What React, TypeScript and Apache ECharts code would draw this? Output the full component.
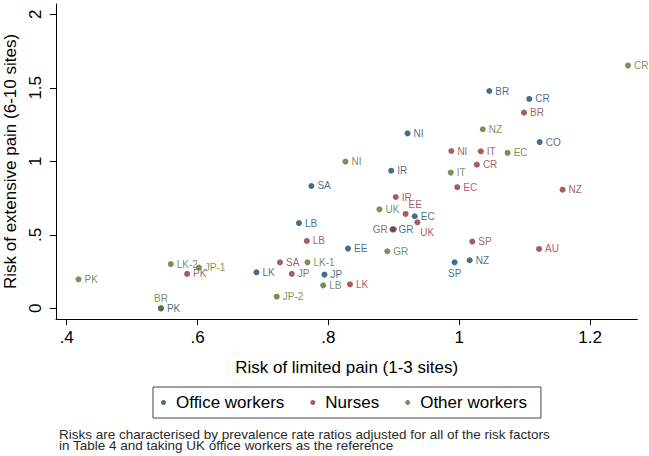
import React, { useEffect, useRef } from "react";
import * as echarts from "echarts";

const officeLabels = ["BR", "CR", "NI", "CO", "IR", "SA", "LB", "EC", "GR", "EE", "SP", "NZ", "LK", "JP", "PK"];
const officeLimited = [1.046, 1.107, 0.921, 1.123, 0.896, 0.774, 0.755, 0.932, 0.898, 0.83, 0.993, 1.016, 0.69, 0.794, 0.544];
const officeExtensive = [1.478, 1.424, 1.19, 1.131, 0.936, 0.832, 0.58, 0.626, 0.537, 0.406, 0.313, 0.327, 0.245, 0.229, 0.0];

const nurseLabels = ["BR", "NI", "IT", "CR", "IR", "EC", "NZ", "EE", "UK", "GR", "SP", "AU", "LB", "SA", "JP", "PK", "LK"];
const nurseLimited = [1.099, 0.988, 1.033, 1.027, 0.903, 0.997, 1.158, 0.918, 0.936, 0.9, 1.02, 1.122, 0.767, 0.726, 0.744, 0.584, 0.833];
const nurseExtensive = [1.331, 1.07, 1.068, 0.977, 0.757, 0.824, 0.807, 0.642, 0.585, 0.537, 0.454, 0.404, 0.458, 0.313, 0.234, 0.234, 0.163];

const otherLabels = ["CR", "NZ", "EC", "NI", "IT", "UK", "GR", "LK-1", "LB", "JP-2", "LK-2", "JP-1", "PK", "BR"];
const otherLimited = [1.258, 1.036, 1.074, 0.826, 0.987, 0.878, 0.89, 0.768, 0.792, 0.721, 0.559, 0.602, 0.418, 0.544];
const otherExtensive = [1.651, 1.218, 1.057, 0.998, 0.923, 0.673, 0.388, 0.313, 0.156, 0.079, 0.301, 0.277, 0.197, 0.0];

const seriesNames = ["Office workers", "Nurses", "Other workers"];
const xTicks = [0.4, 0.6, 0.8, 1, 1.2];
const yTicks = [0, 0.5, 1, 1.5, 2];

const xTitle = "Risk of limited pain (1-3 sites)";
const yTitle = "Risk of extensive pain (6-10 sites)";
const note =
  "Risks are characterised by prevalence rate ratios adjusted for all of the risk factors\nin Table 4 and taking UK office workers as the reference";

const COLORS = ["#1a476f", "#90353b", "#55752f"];
const FONT = "'Liberation Sans', Arial, Helvetica, sans-serif";

// label placements that differ from the default (right of marker)
const labelOverrides: Record<string, any> = {
  "0:SP": { position: "bottom", distance: 3 },
  "1:EE": { position: [6, -6], align: "left", verticalAlign: "middle" },
  "1:UK": { position: [6, 13], align: "left", verticalAlign: "middle" },
  "1:GR": { position: "left", distance: 3 },
  "2:BR": { position: "top", distance: 2 },
};

const stripZero = (v: number) => {
  const s = String(Number(v.toFixed(2)));
  return s.startsWith("0.") ? s.slice(1) : s;
};

function buildData(idx: number, labels: string[], xs: number[], ys: number[]) {
  return labels.map((name, i) => {
    const item: any = { name, value: [xs[i], ys[i]] };
    const o = labelOverrides[`${idx}:${name}`];
    if (o) item.label = { show: true, ...o };
    return item;
  });
}

export default function App() {
  const ref = useRef<HTMLDivElement>(null);
  useEffect(() => {
    if (!ref.current) return;
    const chart = echarts.init(ref.current, undefined, { renderer: "svg" });
    const groups = [
      buildData(0, officeLabels, officeLimited, officeExtensive),
      buildData(1, nurseLabels, nurseLimited, nurseExtensive),
      buildData(2, otherLabels, otherLimited, otherExtensive),
    ];
    chart.setOption({
      animation: false,
      backgroundColor: "#ffffff",
      textStyle: { fontFamily: FONT },
      grid: { left: 56, right: 11.7, top: 4, bottom: 137, containLabel: false, outerBoundsMode: "none" },
      title: {
        text: note,
        left: 59,
        top: 429,
        padding: 0,
        textStyle: { fontSize: 13.5, fontWeight: "normal", color: "#2a2a2a", lineHeight: 11, fontFamily: FONT },
      },
      legend: {
        left: 153,
        top: 387,
        orient: "horizontal",
        borderColor: "#444",
        borderWidth: 1,
        borderRadius: 0,
        padding: [7, 14, 7, 8],
        itemGap: 26,
        itemWidth: 5,
        itemHeight: 5,
        icon: "circle",
        data: seriesNames,
        textStyle: { fontSize: 17, color: "#000", fontFamily: FONT, padding: [0, 0, 0, 5] },
      },
      xAxis: {
        type: "value",
        min: 0.3836,
        max: 1.2722,
        name: xTitle,
        nameLocation: "middle",
        nameGap: 40,
        nameTextStyle: { fontSize: 17, color: "#000", fontFamily: FONT },
        splitLine: { show: false },
        axisLine: { show: true, onZero: false, lineStyle: { color: "#000", width: 1 } },
        axisTick: { show: true, length: 6, customValues: xTicks, lineStyle: { color: "#000" } },
        axisLabel: {
          customValues: xTicks,
          formatter: (v: number) => stripZero(v),
          fontSize: 17,
          color: "#000",
          margin: 10,
          fontFamily: FONT,
        },
      },
      yAxis: {
        type: "value",
        min: -0.0728,
        max: 2.07,
        name: yTitle,
        nameLocation: "middle",
        nameGap: 30,
        nameRotate: 90,
        nameTextStyle: { fontSize: 17, color: "#000", fontFamily: FONT },
        splitLine: { show: false },
        axisLine: { show: true, onZero: false, lineStyle: { color: "#000", width: 1 } },
        axisTick: { show: true, length: 6, customValues: yTicks, lineStyle: { color: "#000" } },
        axisLabel: {
          customValues: yTicks,
          formatter: (v: number) => stripZero(v),
          rotate: 90,
          fontSize: 17,
          color: "#000",
          margin: 12,
          fontFamily: FONT,
        },
      },
      series: groups.map((data, i) => ({
        type: "scatter",
        name: seriesNames[i],
        data,
        symbol: "circle",
        symbolSize: 6,
        itemStyle: { color: COLORS[i] },
        label: {
          show: true,
          formatter: "{b}",
          position: "right",
          distance: 3,
          fontSize: 10,
          color: COLORS[i],
          fontFamily: FONT,
        },
        labelLayout: { hideOverlap: false },
        emphasis: { disabled: true },
        z: 2 + i,
      })),
    });
    return () => chart.dispose();
  }, []);
  return (
    <div
      ref={ref}
      style={{ position: "fixed", left: 0, top: 0, width: 649, height: 456, background: "#fff" }}
    />
  );
}
